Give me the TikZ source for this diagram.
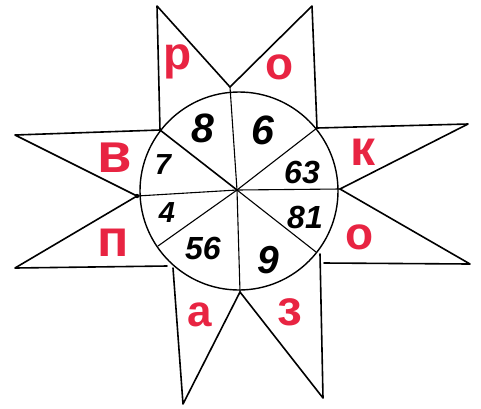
\documentclass[tikz,border=0pt]{standalone}
\usepackage{fontspec}
\setmainfont{Liberation Sans}
\definecolor{letterred}{RGB}{232,36,66}

\begin{document}
\begin{tikzpicture}[x=1pt,y=-1pt, line cap=round, line join=round,
	starline/.style={line width=1.6pt},
	cutline/.style={line width=1.1pt},
	letter/.style={text=letterred, inner sep=0pt, font=\bfseries\fontsize{#1}{#1}\selectfont},
	digit/.style={inner sep=0pt, font=\bfseries\itshape\fontsize{#1}{#1}\selectfont}]
	\useasboundingbox (0,0) rectangle (481,408);
	% circle and its eight cuts
	\node[circle, draw, line width=1.4pt, minimum size=198pt, inner sep=0pt] (disc) at (239,191) {};
	\coordinate (c) at (237,190);
	\coordinate (T) at (230,87);   \coordinate (B) at (240,292);
	\coordinate (L) at (137,196);  \coordinate (R) at (340,189);
	\coordinate (UL) at (160,130); \coordinate (UR) at (317,128);
	\coordinate (LR) at (316,252); \coordinate (LL) at (158,246);
	\foreach \p in {T,B,L,R,UR,LR,LL} {\draw[cutline] (c) -- (\p);}
	\draw[starline] (c) -- (UL);
	% star points
	\coordinate (tipR) at (157,6);   \coordinate (tipO) at (312,6);
	\coordinate (tipK) at (468,124); \coordinate (tipO2) at (470,264);
	\coordinate (tipZ) at (323,398); \coordinate (tipA) at (183,404);
	\coordinate (tipP) at (15,268);  \coordinate (tipV) at (15,135);
	\coordinate (oh) at (324,263);   \coordinate (zv) at (320,254);
	\coordinate (ph) at (167,266);   \coordinate (av) at (173,268);
	\draw[starline] (UL) -- (tipR) -- (T) -- (tipO) -- (UR);
	\draw[starline] (UR) -- (tipK) -- (R) -- (tipO2) -- (oh);
	\draw[starline] (zv) -- (tipZ) -- (B) -- (tipA) -- (av);
	\draw[starline] (ph) -- (tipP) -- (L) -- (tipV) -- (UL);
	\fill (L) circle (2.2pt);
	% letters
	\foreach \pos/\txt/\size [count=\i] in {(178,62)/р/46, (280,67)/о/46, (363,152)/к/50, (360,237)/о/46, (290,312)/з/50, (200,315)/а/44, (113,243)/п/52, (115,158)/в/56}
		{\node[letter=\size] (let\i) at \pos {\txt};}
	% numbers
	\foreach \pos/\num/\size [count=\i] in {(203,128)/8/41, (263,130)/6/41, (302,172)/63/32, (305,217)/81/32, (268,260)/9/39, (203,248)/56/32, (167,213)/4/29, (163,165)/7/29}
		{\node[digit=\size] (num\i) at \pos {\num};}
\end{tikzpicture}
\end{document}
